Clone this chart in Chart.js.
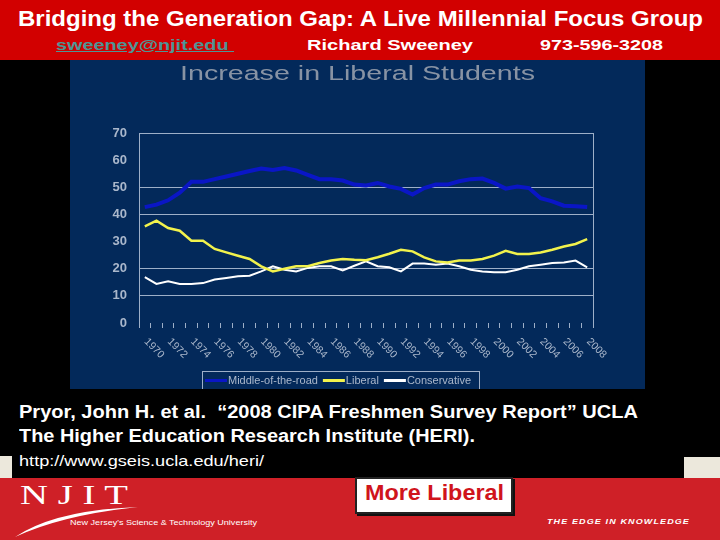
<!DOCTYPE html>
<html>
<head>
<meta charset="utf-8">
<script src="https://cdn.jsdelivr.net/npm/chart.js@4/dist/chart.umd.min.js"></script>
<style>
  html, body { margin: 0; padding: 0; }
  body { width: 720px; height: 540px; background: #000; position: relative; overflow: hidden; font-family: "Liberation Sans", Arial, sans-serif; }
  .band { position: absolute; left: 0; width: 720px; }
  .t { position: absolute; white-space: nowrap; line-height: 1; transform-origin: 0 50%; color: #fff; }
  #c { position: absolute; left: 70px; top: 60px; background: #03295a; }
</style>
</head>
<body>
<div class="band" style="top:0;height:60px;background:#d20000"></div>
<div class="band" style="top:478px;height:62px;background:#cf2027"></div>
<div style="position:absolute;left:0;top:456px;width:12px;height:22px;background:#ece8dc"></div>
<div style="position:absolute;left:684px;top:457px;width:36px;height:21px;background:#ece8dc"></div>

<div class="t" data-w="685" style="left:18px;top:8px;font-weight:bold;font-size:22px">Bridging the Generation Gap: A Live Millennial Focus Group</div>
<div class="t" data-w="178" style="left:56px;top:37px;font-weight:bold;font-size:15.5px;color:#4e9595;text-decoration:underline">sweeney@njit.edu&nbsp;</div>
<div class="t" data-w="166" style="left:307px;top:37px;font-weight:bold;font-size:15.5px">Richard Sweeney</div>
<div class="t" data-w="123" style="left:540px;top:37px;font-weight:bold;font-size:15.5px">973-596-3208</div>

<canvas id="c" width="575" height="329"></canvas>
<div class="t" data-w="355" style="left:180px;top:63px;font-size:20px;color:#8893a4">Increase in Liberal Students</div>

<div class="t" data-w="619" style="left:19px;top:404px;font-weight:bold;font-size:17.5px">Pryor, John H. et al.&nbsp; “2008 CIPA Freshmen Survey Report” UCLA</div>
<div class="t" data-w="456" style="left:19px;top:428px;font-weight:bold;font-size:17.5px">The Higher Education Research Institute (HERI).</div>
<div class="t" data-w="245" style="left:19px;top:454px;font-size:14.5px">http://www.gseis.ucla.edu/heri/</div>

<div style="position:absolute;left:355px;top:477px;width:154px;height:33px;background:#fff;border:2px solid #222;box-shadow:2px 2px 0 #111"></div>
<div class="t" data-w="139" style="left:365px;top:482px;font-weight:bold;font-size:22px;color:#d0141c">More Liberal</div>

<div class="t" data-w="108" style="left:20px;top:482px;font-family:'Liberation Serif',serif;font-size:27px">N J I T</div>
<svg style="position:absolute;left:0;top:480px" width="160" height="60">
  <path d="M15 57 Q 55 30 138 27 Q 62 35 15 57 Z" fill="#fff"/>
</svg>
<div class="t" data-w="187" style="left:70px;top:519px;font-size:8px">New Jersey's Science &amp; Technology University</div>
<div class="t" data-w="143" style="left:547px;top:518px;font-weight:bold;font-style:italic;font-size:8px;letter-spacing:1px">THE EDGE IN KNOWLEDGE</div>

<script>
// stretch the slide texts to their widths in the picture
document.querySelectorAll('[data-w]').forEach(el => {
    const w = el.getBoundingClientRect().width;
    el.style.transform = 'scaleX(' + (el.dataset.w / w) + ')';
});

const years = ['1970', '1971', '1972', '1973', '1974', '1975', '1976', '1977', '1978', '1979',
    '1980', '1981', '1982', '1983', '1984', '1985', '1986', '1987', '1988', '1989',
    '1990', '1991', '1992', '1993', '1994', '1995', '1996', '1997', '1998', '1999',
    '2000', '2001', '2002', '2003', '2004', '2005', '2006', '2007', '2008'];
const tickYears = ['1970', '1972', '1974', '1976', '1978', '1980', '1982', '1984', '1986', '1988',
    '1990', '1992', '1994', '1996', '1998', '2000', '2002', '2004', '2006', '2008'];

const middleOfRoad = [42.7, 43.6, 45.2, 48, 52, 52, 53, 54, 55, 56,
    56.9, 56.4, 57.1, 56.2, 54.6, 53, 53, 52.5, 51, 50.7,
    51.6, 50.3, 49.4, 47.3, 49.7, 51, 51, 52.2, 53, 53.2,
    51.6, 49.5, 50.3, 49.7, 46, 44.8, 43.2, 43, 42.7];
const liberal = [35.6, 37.7, 35, 34, 30.3, 30.3, 27.3, 26, 24.8, 23.6,
    20.9, 19, 20, 20.9, 20.9, 22.1, 23, 23.6, 23.3, 23.1,
    24.2, 25.5, 27, 26.4, 24.2, 22.7, 22.3, 23, 23, 23.6,
    24.8, 26.6, 25.4, 25.4, 26, 27, 28.2, 29.1, 30.9];
const conservative = [16.9, 14.4, 15.4, 14.4, 14.4, 14.7, 16, 16.6, 17.2, 17.4,
    19, 20.9, 19.6, 19, 20.3, 20.9, 20.9, 19.4, 21.1, 22.7,
    20.9, 20.5, 19, 21.9, 21.9, 21.5, 21.9, 20.9, 19.6, 19,
    18.7, 18.7, 19.6, 20.9, 21.5, 22.1, 22.3, 23, 20.5];

const lineColor = '#9eafc8';
const labelColor = '#aab7cb';
const font = '"Liberation Sans", Arial, sans-serif';

// year labels run down to the right, legend sits in a framed box
const extras = {
    id: 'extras',
    afterDraw(chart) {
        const {ctx, chartArea: a, scales: {x}} = chart;
        ctx.save();
        ctx.strokeStyle = lineColor;
        ctx.lineWidth = 1;
        ctx.beginPath();
        ctx.moveTo(a.right + 0.5, a.top);
        ctx.lineTo(a.right + 0.5, a.bottom + 5);
        ctx.moveTo(a.left + 0.5, a.bottom);
        ctx.lineTo(a.left + 0.5, a.bottom + 5);
        ctx.stroke();

        ctx.font = '10.5px ' + font;
        ctx.fillStyle = labelColor;
        ctx.textAlign = 'left';
        ctx.textBaseline = 'middle';
        years.forEach((yr, i) => {
            if (!tickYears.includes(yr)) return;
            ctx.save();
            ctx.translate(x.getPixelForValue(i) + 1, a.bottom + 17);
            ctx.rotate(Math.PI / 4);
            ctx.fillText(yr, 0, 0);
            ctx.restore();
        });

        ctx.strokeRect(132.5, 311.5, 277, 20);
        ctx.font = '11px ' + font;
        let lx = 135;
        chart.data.datasets.forEach(ds => {
            ctx.strokeStyle = ds.borderColor;
            ctx.lineWidth = 3;
            ctx.beginPath();
            ctx.moveTo(lx, 320.5);
            ctx.lineTo(lx + 22, 320.5);
            ctx.stroke();
            ctx.fillText(ds.label, lx + 23, 320.5);
            lx += 23 + ctx.measureText(ds.label).width + 5;
        });
        ctx.restore();
    }
};

new Chart(document.getElementById('c'), {
    type: 'line',
    data: {
        labels: years,
        datasets: [{
            label: 'Middle-of-the-road',
            data: middleOfRoad,
            borderColor: '#0a16c6',
            borderWidth: 4
        }, {
            label: 'Liberal',
            data: liberal,
            borderColor: '#f2f24c',
            borderWidth: 2.5
        }, {
            label: 'Conservative',
            data: conservative,
            borderColor: '#ffffff',
            borderWidth: 2
        }]
    },
    options: {
        responsive: false,
        animation: false,
        layout: { padding: { top: 73, right: 52, bottom: 0, left: 0 } },
        elements: { point: { radius: 0 }, line: { tension: 0 } },
        plugins: { legend: { display: false }, tooltip: { enabled: false } },
        scales: {
            x: {
                offset: true,
                afterFit(scale) { scale.height = 66; },
                ticks: { display: false },
                grid: { offset: true, drawOnChartArea: false, drawTicks: true, tickLength: 5, color: lineColor },
                border: { display: false }
            },
            y: {
                min: 0,
                max: 70,
                afterFit(scale) { scale.width = 69; },
                ticks: { stepSize: 10, padding: 12, color: labelColor, font: { family: font, size: 13, weight: 'bold' } },
                grid: {
                    drawTicks: false,
                    color: c => [0, 30, 60].includes(c.tick.value) ? 'rgba(0,0,0,0)' : lineColor
                },
                border: { display: true, color: lineColor }
            }
        }
    },
    plugins: [extras]
});
</script>
</body>
</html>
